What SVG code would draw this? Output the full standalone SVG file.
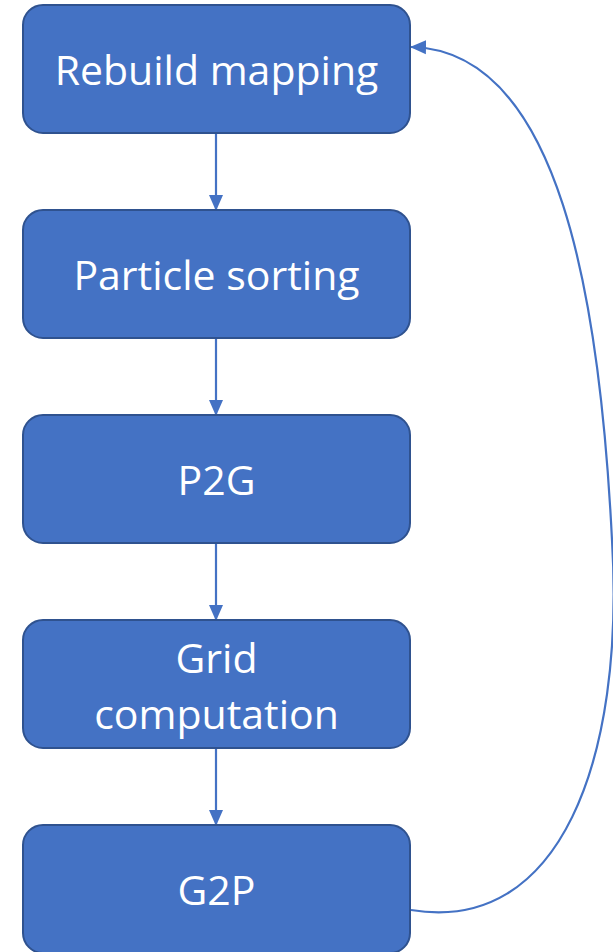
<svg xmlns="http://www.w3.org/2000/svg" width="613" height="952" viewBox="0 0 613 952">
<style>
.box{fill:#4472C4;stroke:#2F528F;stroke-width:2}
.lbl{fill:#fff;font-family:"Open Sans","Liberation Sans",sans-serif;font-size:41px;text-anchor:middle;dominant-baseline:central}
.con{stroke:#4472C4;stroke-width:2.2;fill:none}
</style>
<defs>
<marker id="ah" markerWidth="16" markerHeight="16" refX="15" refY="8" orient="auto" markerUnits="userSpaceOnUse">
<path d="M0,1 L16,8 L0,15 Z" fill="#4472C4"/>
</marker>
</defs>
<rect width="613" height="952" fill="#fff"/>
<g id="connectors">
<line class="con" x1="216" y1="133" x2="216" y2="210" marker-end="url(#ah)"/>
<line class="con" x1="216" y1="338" x2="216" y2="415" marker-end="url(#ah)"/>
<line class="con" x1="216" y1="543" x2="216" y2="620" marker-end="url(#ah)"/>
<line class="con" x1="216" y1="748" x2="216" y2="825" marker-end="url(#ah)"/>
<path class="con" d="M411,910 C560,935 625,760 612,540 C600,300 560,50 411,47" marker-end="url(#ah)"/>
</g>
<g id="n1"><rect class="box" x="23" y="5" width="387" height="128" rx="20"/><text class="lbl" x="216.5" y="69">Rebuild mapping</text></g>
<g id="n2"><rect class="box" x="23" y="210" width="387" height="128" rx="20"/><text class="lbl" x="216.5" y="274">Particle sorting</text></g>
<g id="n3"><rect class="box" x="23" y="415" width="387" height="128" rx="20"/><text class="lbl" x="216.5" y="479">P2G</text></g>
<g id="n4"><rect class="box" x="23" y="620" width="387" height="128" rx="20"/><text class="lbl" x="216.5" y="657">Grid</text><text class="lbl" x="216.5" y="713">computation</text></g>
<g id="n5"><rect class="box" x="23" y="825" width="387" height="128" rx="20"/><text class="lbl" x="216.5" y="889">G2P</text></g>
</svg>
